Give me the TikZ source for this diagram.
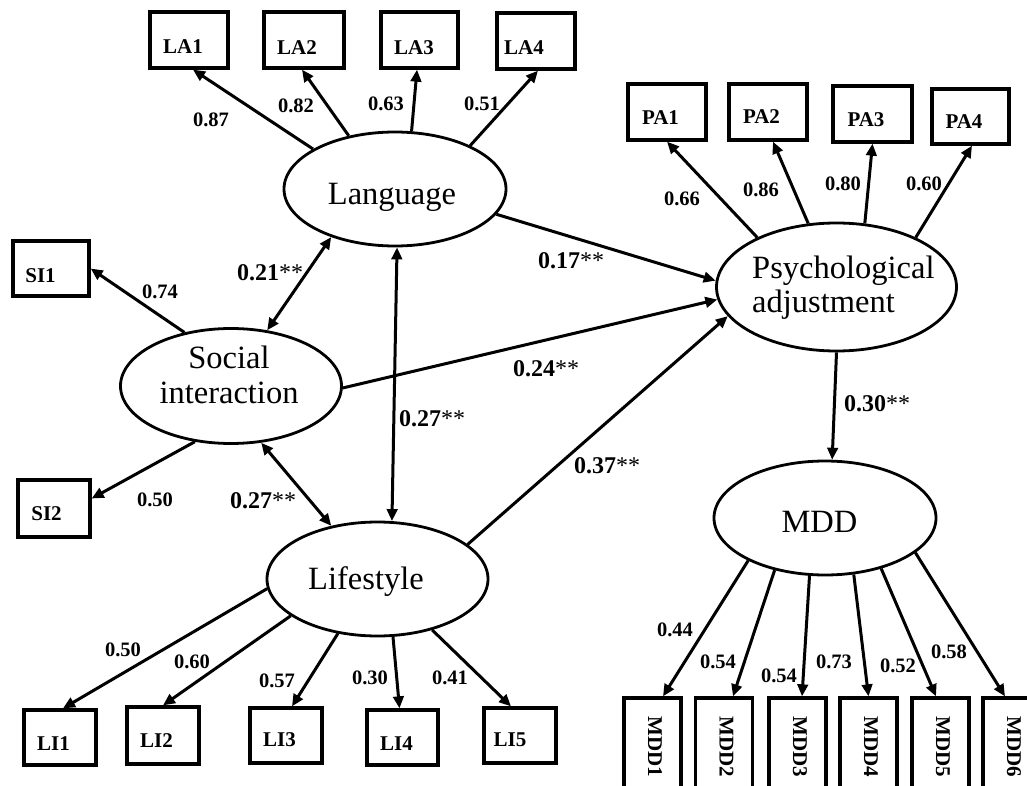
\documentclass[tikz,border=0pt]{standalone}
\usepackage{fontspec}
\setmainfont{Liberation Serif}
\usetikzlibrary{arrows.meta,shapes.geometric}
\begin{document}
\begin{tikzpicture}[x=1pt,y=-1pt,
  lat/.style={draw, ellipse, line width=2.8pt, inner sep=0pt},
  obs/.style={draw, rectangle, line width=3.3pt, inner sep=0pt},
  lattext/.style={font=\fontsize{32.5}{36}\selectfont, inner sep=0pt, anchor=base},
  obstext/.style={font=\fontsize{21}{24}\selectfont\bfseries, inner sep=0pt},
  coef/.style={font=\fontsize{20.5}{24}\selectfont\bfseries, inner sep=0pt},
  scoef/.style={font=\fontsize{24}{28}\selectfont, inner sep=0pt},
  arr/.style={line width=3pt, -{Triangle[length=12pt,width=10.5pt]}},
  darr/.style={line width=3pt, {Triangle[length=12pt,width=10.5pt]}-{Triangle[length=12pt,width=10.5pt]}}
]
\useasboundingbox (0,0) rectangle (1027,786);
\clip (0,0) rectangle (1027,786);

% latent variables
\node[lat, minimum width=222pt, minimum height=114pt] (lang) at (395,189) {};
\node[lat, minimum width=221pt, minimum height=115pt] (soc) at (231,386) {};
\node[lat, minimum width=221pt, minimum height=114pt] (life) at (377.5,579) {};
\node[lat, minimum width=240pt, minimum height=128pt] (psy) at (836.5,287) {};
\node[lat, minimum width=222pt, minimum height=114pt] (mdd) at (825,518) {};

\node[lattext] (langt) at (392,205) {Language};
\node[lattext] (soct1) at (229,368) {Social};
\node[lattext] (soct2) at (229,403) {interaction};
\node[lattext] (lifet) at (366,589) {Lifestyle};
\node[lattext, anchor=base west] (psyt1) at (752,278) {Psychological};
\node[lattext, anchor=base west] (psyt2) at (752,312) {adjustment};
\node[lattext] (mddt) at (819.5,532) {MDD};

% indicators
\node[obs, minimum width=78pt, minimum height=56pt] (LA1) at (189,40) {};
\node[obs, minimum width=80pt, minimum height=56pt] (LA2) at (304,40) {};
\node[obs, minimum width=77pt, minimum height=56pt] (LA3) at (419.5,40) {};
\node[obs, minimum width=78pt, minimum height=56pt] (LA4) at (536,41) {};
\node[obstext] (LA1t) at (183,47) {LA1};
\node[obstext] (LA2t) at (297,47.5) {LA2};
\node[obstext] (LA3t) at (414,47.5) {LA3};
\node[obstext] (LA4t) at (524,47.5) {LA4};

\node[obs, minimum width=78pt, minimum height=56pt] (PA1) at (667,112) {};
\node[obs, minimum width=78pt, minimum height=56pt] (PA2) at (768,112) {};
\node[obs, minimum width=79pt, minimum height=56pt] (PA3) at (872.5,114) {};
\node[obs, minimum width=77pt, minimum height=55pt] (PA4) at (970.5,116.5) {};
\node[obstext] (PA1t) at (660.5,117.5) {PA1};
\node[obstext] (PA2t) at (761.5,117) {PA2};
\node[obstext] (PA3t) at (866,120) {PA3};
\node[obstext] (PA4t) at (964,122) {PA4};

\node[obs, minimum width=76pt, minimum height=55pt] (SI1) at (51,268.5) {};
\node[obs, minimum width=72pt, minimum height=57pt] (SI2) at (54,508.5) {};
\node[obstext] (SI1t) at (40.5,276) {SI1};
\node[obstext] (SI2t) at (46.5,513.5) {SI2};

\node[obs, minimum width=72pt, minimum height=55pt] (LI1) at (60,737.5) {};
\node[obs, minimum width=72pt, minimum height=57pt] (LI2) at (163,735.5) {};
\node[obs, minimum width=72pt, minimum height=55pt] (LI3) at (286,735.5) {};
\node[obs, minimum width=71pt, minimum height=55pt] (LI4) at (402.5,737.5) {};
\node[obs, minimum width=72pt, minimum height=55pt] (LI5) at (520,735.5) {};
\node[obstext] (LI1t) at (53.5,744) {LI1};
\node[obstext] (LI2t) at (156.5,740.5) {LI2};
\node[obstext] (LI3t) at (279.5,740) {LI3};
\node[obstext] (LI4t) at (396.5,743.5) {LI4};
\node[obstext] (LI5t) at (510,740) {LI5};

\foreach \i/\x in {1/652.5,2/724,3/797.5,4/868.5,5/940.5,6/1011.5}{
  \node[obs, minimum width=57pt, minimum height=96pt] (MDD\i) at (\x,746) {};
  \node[obstext, rotate=-90] (MDD\i t) at ({\x+2.5},746.5) {MDD\i};
}

% loadings
\draw[arr] (lang.154.8) -- ([xshift=4pt]LA1.south);
\draw[arr] (lang.131.6) -- ([xshift=-2pt]LA2.south);
\draw[arr] (lang.74.4) -- ([xshift=-2.5pt]LA3.south);
\draw[arr] (lang.30.4) -- ([xshift=2pt]LA4.south);

\draw[arr] (psy.148) -- (PA1.south);
\draw[arr] (psy.114.8) -- ([xshift=5pt]PA2.south);
\draw[arr] (psy.66.6) -- (PA3.south);
\draw[arr] (psy.32.9) -- ([xshift=1.5pt]PA4.south);

\draw[arr] (soc.131.6) -- (SI1.east);
\draw[arr] (soc.237.2) -- ([yshift=10pt]SI2.east);

\draw[arr] (life.185.7) -- ([xshift=3pt]LI1.north);
\draw[arr] (life.203.1) -- (LI2.north);
\draw[arr] (life.234.5) -- ([xshift=6pt]LI3.north);
\draw[arr] (life.285.2) -- ([xshift=-3pt]LI4.north);
\draw[arr] (life.317.7) -- ([xshift=-9pt]LI5.north);

\draw[arr] (mdd.209) -- ([xshift=10.5pt]MDD1.north);
\draw[arr] (mdd.226) -- ([xshift=9pt]MDD2.north);
\draw[arr] (mdd.255) -- ([xshift=4.5pt]MDD3.north);
\draw[arr] (mdd.297) -- (MDD4.north);
\draw[arr] (mdd.318.7) -- ([xshift=-4.5pt]MDD5.north);
\draw[arr] (mdd.339) -- ([xshift=-6.5pt]MDD6.north);

% structural paths
\draw[arr] (lang.346.3) -- (psy.177.2);
\draw[arr] (soc.359) -- (psy.186.7);
\draw[arr] (life.21.9) -- (psy.195.4);
\draw[arr] (psy.270) -- (mdd.83.5);
\draw[darr] (lang.217.2) -- (soc.57.5);
\draw[darr] (lang.272.8) -- (life.76.4);
\draw[darr] (soc.298.5) -- (life.131.5);

% loading labels
\node[coef] (c1) at (211,120) {0.87};
\node[coef] (c2) at (296,106) {0.82};
\node[coef] (c3) at (386,104) {0.63};
\node[coef] (c4) at (482,104) {0.51};
\node[coef] (c5) at (682,199) {0.66};
\node[coef] (c6) at (761,190) {0.86};
\node[coef] (c7) at (843,184) {0.80};
\node[coef] (c8) at (924,184) {0.60};
\node[coef] (c9) at (160,292) {0.74};
\node[coef] (c10) at (155,500) {0.50};
\node[coef] (c11) at (123,650) {0.50};
\node[coef] (c12) at (192,662) {0.60};
\node[coef] (c13) at (277,681) {0.57};
\node[coef] (c14) at (370,678) {0.30};
\node[coef] (c15) at (450,678) {0.41};
\node[coef] (c16) at (675,630) {0.44};
\node[coef] (c17) at (718,662) {0.54};
\node[coef] (c18) at (779,676) {0.54};
\node[coef] (c19) at (834,662) {0.73};
\node[coef] (c20) at (898,666) {0.52};
\node[coef] (c21) at (949,652) {0.58};

% structural labels
\node[scoef] (s1) at (270,273) {\textbf{0.21}**};
\node[scoef] (s2) at (263,501) {\textbf{0.27}**};
\node[scoef] (s3) at (571,261) {\textbf{0.17}**};
\node[scoef] (s4) at (546,369) {\textbf{0.24}**};
\node[scoef] (s5) at (432,419) {\textbf{0.27}**};
\node[scoef] (s6) at (607,466) {\textbf{0.37}**};
\node[scoef] (s7) at (877,404) {\textbf{0.30}**};
\end{tikzpicture}
\end{document}
